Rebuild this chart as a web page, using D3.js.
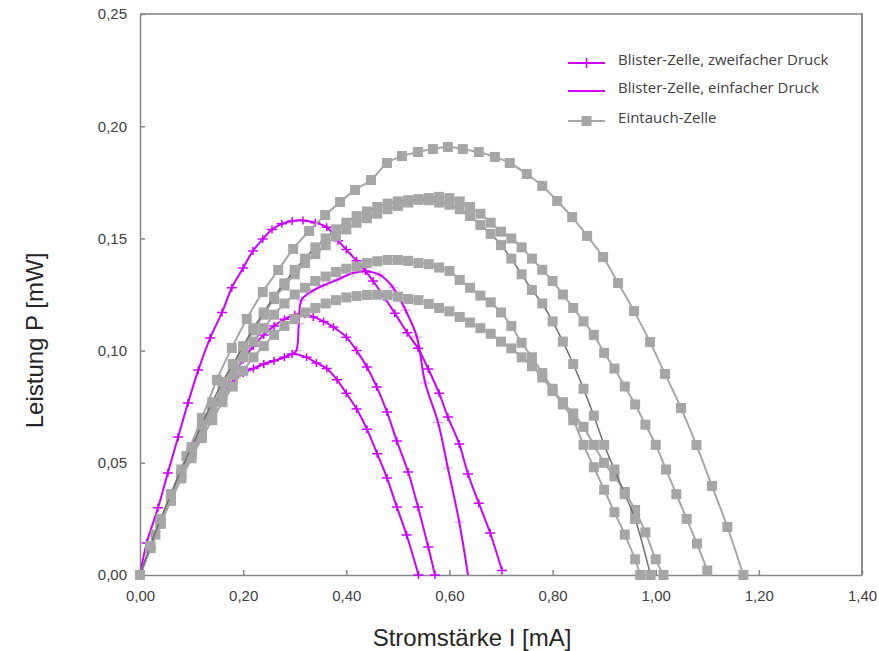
<!DOCTYPE html>
<html>
<head>
<meta charset="utf-8">
<script src="https://cdn.jsdelivr.net/npm/d3@7"></script>
<style>
  body { margin: 0; background: #fff; }
  .tick text { font-family: "Liberation Sans", Arial, sans-serif; font-size: 15px; fill: #404040; }
  .axis-title { font-family: "Liberation Sans", Arial, sans-serif; font-size: 24px; fill: #262626; }
  .legend text { font-family: "Open Sans", "Noto Sans", sans-serif; font-size: 15px; fill: #404040; }
</style>
</head>
<body>
<div id="chart"></div>
<script>
// Blister-Zelle, zweifacher Druck (+ markers)
const blisterA_I = [0, 0.013, 0.035, 0.054, 0.074, 0.093, 0.113, 0.136, 0.159, 0.178, 0.20, 0.219, 0.238, 0.256, 0.275, 0.295, 0.316, 0.34, 0.362, 0.384, 0.40, 0.42, 0.437, 0.452, 0.473, 0.494, 0.518, 0.539, 0.559, 0.58, 0.597, 0.619, 0.636, 0.657, 0.679, 0.702]
const blisterA_P = [0, 0.0143, 0.030, 0.0455, 0.0615, 0.0766, 0.0913, 0.1056, 0.117, 0.128, 0.1368, 0.1444, 0.1497, 0.154, 0.1565, 0.1578, 0.158, 0.157, 0.155, 0.149, 0.145, 0.140, 0.1355, 0.131, 0.124, 0.1167, 0.108, 0.101, 0.0918, 0.081, 0.0704, 0.0584, 0.045, 0.032, 0.0187, 0.002]

const blisterC_I = [0, 0.02, 0.04, 0.06, 0.08, 0.10, 0.12, 0.14, 0.16, 0.18, 0.20, 0.22, 0.24, 0.26, 0.28, 0.30, 0.32, 0.336, 0.356, 0.375, 0.40, 0.42, 0.44, 0.459, 0.479, 0.498, 0.52, 0.539, 0.559, 0.572]
const blisterC_P = [0, 0.012, 0.024, 0.035, 0.046, 0.056, 0.065, 0.074, 0.082, 0.089, 0.096, 0.102, 0.107, 0.111, 0.114, 0.116, 0.1162, 0.115, 0.113, 0.1105, 0.106, 0.100, 0.0927, 0.0838, 0.0726, 0.0597, 0.0459, 0.0303, 0.0125, 0]

const blisterD_I = [0, 0.02, 0.04, 0.06, 0.08, 0.10, 0.12, 0.14, 0.16, 0.18, 0.20, 0.22, 0.24, 0.26, 0.28, 0.295, 0.323, 0.342, 0.362, 0.382, 0.40, 0.42, 0.44, 0.46, 0.479, 0.498, 0.517, 0.54]
const blisterD_P = [0, 0.012, 0.023, 0.034, 0.044, 0.054, 0.063, 0.072, 0.080, 0.086, 0.090, 0.092, 0.094, 0.0955, 0.097, 0.0985, 0.097, 0.0945, 0.092, 0.087, 0.081, 0.074, 0.065, 0.054, 0.0432, 0.0303, 0.0178, 0]

// Blister-Zelle, einfacher Druck (line)
const blisterB_I = [0, 0.02, 0.04, 0.06, 0.08, 0.10, 0.12, 0.14, 0.16, 0.18, 0.20, 0.22, 0.24, 0.26, 0.28, 0.295, 0.303, 0.308, 0.313, 0.33, 0.355, 0.382, 0.413, 0.44, 0.465, 0.491, 0.515, 0.537, 0.553, 0.578, 0.597, 0.619, 0.636]
const blisterB_P = [0, 0.012, 0.023, 0.034, 0.044, 0.054, 0.063, 0.072, 0.080, 0.086, 0.090, 0.092, 0.094, 0.0955, 0.097, 0.0985, 0.100, 0.112, 0.1225, 0.126, 0.129, 0.1315, 0.1346, 0.1352, 0.1337, 0.128, 0.118, 0.106, 0.0856, 0.068, 0.0477, 0.0236, 0]

// Eintauch-Zelle (squares)
const dip1_I = [0, 0.03, 0.06, 0.09, 0.12, 0.149, 0.178, 0.207, 0.238, 0.268, 0.297, 0.328, 0.359, 0.388, 0.417, 0.448, 0.479, 0.508, 0.539, 0.568, 0.597, 0.626, 0.657, 0.688, 0.717, 0.75, 0.78, 0.809, 0.838, 0.867, 0.898, 0.927, 0.958, 0.989, 1.018, 1.049, 1.079, 1.109, 1.139, 1.17]
const dip1_P = [0, 0.018, 0.036, 0.053, 0.070, 0.0869, 0.1012, 0.1141, 0.1261, 0.1359, 0.1453, 0.1533, 0.1604, 0.1662, 0.1716, 0.176, 0.1836, 0.1867, 0.1885, 0.1898, 0.1907, 0.1898, 0.1885, 0.1863, 0.1836, 0.1787, 0.1734, 0.1667, 0.1595, 0.1511, 0.1417, 0.1301, 0.1176, 0.1038, 0.0896, 0.0744, 0.0579, 0.0397, 0.0214, 0]

const dip2_I = [0, 0.02, 0.04, 0.06, 0.08, 0.10, 0.12, 0.14, 0.16, 0.18, 0.20, 0.22, 0.24, 0.26, 0.28, 0.30, 0.32, 0.34, 0.36, 0.38, 0.40, 0.42, 0.44, 0.46, 0.48, 0.50, 0.52, 0.54, 0.56, 0.58, 0.60, 0.62, 0.64, 0.66, 0.68, 0.70, 0.72, 0.74, 0.76, 0.78, 0.80, 0.82, 0.84, 0.86, 0.88, 0.90, 0.92, 0.94, 0.96, 0.98, 1.00, 1.02, 1.04, 1.06, 1.08, 1.10]
const dip2_P = [0, 0.012, 0.023, 0.034, 0.045, 0.055, 0.065, 0.075, 0.084, 0.093, 0.101, 0.109, 0.116, 0.123, 0.129, 0.134, 0.139, 0.143, 0.147, 0.151, 0.154, 0.157, 0.159, 0.161, 0.163, 0.1645, 0.166, 0.1675, 0.168, 0.1685, 0.168, 0.1665, 0.164, 0.161, 0.157, 0.153, 0.150, 0.146, 0.141, 0.136, 0.131, 0.125, 0.119, 0.113, 0.107, 0.099, 0.092, 0.084, 0.076, 0.067, 0.058, 0.047, 0.036, 0.025, 0.014, 0.002]

const dip3_I = [0, 0.02, 0.04, 0.06, 0.08, 0.10, 0.12, 0.14, 0.16, 0.18, 0.20, 0.22, 0.24, 0.26, 0.28, 0.30, 0.32, 0.34, 0.36, 0.38, 0.40, 0.42, 0.44, 0.46, 0.48, 0.50, 0.52, 0.54, 0.56, 0.58, 0.60, 0.62, 0.64, 0.66, 0.68, 0.70, 0.72, 0.74, 0.76, 0.78, 0.80, 0.82, 0.84, 0.86, 0.88, 0.90, 0.92, 0.94, 0.96, 0.99]
const dip3_P = [0, 0.013, 0.025, 0.036, 0.047, 0.057, 0.067, 0.077, 0.086, 0.094, 0.102, 0.110, 0.117, 0.124, 0.130, 0.136, 0.141, 0.146, 0.150, 0.154, 0.157, 0.160, 0.162, 0.164, 0.1655, 0.1665, 0.167, 0.1672, 0.167, 0.166, 0.165, 0.163, 0.160, 0.156, 0.152, 0.147, 0.141, 0.134, 0.127, 0.121, 0.113, 0.104, 0.094, 0.083, 0.071, 0.058, 0.047, 0.036, 0.025, 0]

const dip4_I = [0, 0.02, 0.04, 0.06, 0.08, 0.10, 0.12, 0.14, 0.16, 0.18, 0.20, 0.22, 0.24, 0.26, 0.28, 0.30, 0.32, 0.34, 0.36, 0.38, 0.40, 0.42, 0.44, 0.46, 0.48, 0.50, 0.52, 0.54, 0.56, 0.58, 0.60, 0.62, 0.64, 0.66, 0.68, 0.70, 0.72, 0.74, 0.76, 0.78, 0.80, 0.82, 0.84, 0.86, 0.88, 0.90, 0.92, 0.94, 0.96, 0.98, 1.00, 1.015]
const dip4_P = [0, 0.012, 0.023, 0.034, 0.044, 0.054, 0.063, 0.072, 0.081, 0.089, 0.097, 0.104, 0.110, 0.116, 0.121, 0.125, 0.128, 0.131, 0.133, 0.135, 0.1365, 0.1375, 0.139, 0.1398, 0.1404, 0.1404, 0.140, 0.139, 0.1385, 0.137, 0.1355, 0.1315, 0.128, 0.1245, 0.1215, 0.117, 0.111, 0.1035, 0.097, 0.090, 0.083, 0.077, 0.072, 0.066, 0.058, 0.050, 0.044, 0.037, 0.029, 0.019, 0.007, 0]

const dip5_I = [0, 0.02, 0.04, 0.06, 0.08, 0.10, 0.12, 0.14, 0.16, 0.18, 0.20, 0.22, 0.24, 0.26, 0.28, 0.30, 0.32, 0.34, 0.36, 0.38, 0.40, 0.42, 0.44, 0.46, 0.48, 0.50, 0.52, 0.54, 0.56, 0.58, 0.60, 0.62, 0.64, 0.66, 0.68, 0.70, 0.72, 0.74, 0.76, 0.78, 0.80, 0.82, 0.84, 0.86, 0.88, 0.90, 0.92, 0.94, 0.96, 0.97]
const dip5_P = [0, 0.012, 0.023, 0.033, 0.043, 0.052, 0.061, 0.069, 0.077, 0.084, 0.091, 0.097, 0.102, 0.107, 0.111, 0.114, 0.117, 0.119, 0.121, 0.1225, 0.1237, 0.1243, 0.1248, 0.1249, 0.1248, 0.124, 0.123, 0.1225, 0.1208, 0.119, 0.1175, 0.115, 0.1125, 0.110, 0.1075, 0.104, 0.101, 0.097, 0.093, 0.088, 0.082, 0.076, 0.069, 0.058, 0.048, 0.038, 0.028, 0.018, 0.007, 0]

const xTicks = [0, 0.2, 0.4, 0.6, 0.8, 1.0, 1.2, 1.4]
const yTicks = [0, 0.05, 0.10, 0.15, 0.20, 0.25]
const legendLabels = ["Blister-Zelle, zweifacher Druck", "Blister-Zelle, einfacher Druck", "Eintauch-Zelle"]

const magenta = "#cc00ff"
const grey = "#a6a6a6"

const margin = {top: 14, right: 17, bottom: 76, left: 140}
const W = 879, H = 651
const width = W - margin.left - margin.right
const height = H - margin.top - margin.bottom

const svg = d3.select("#chart").append("svg")
    .attr("width", W)
    .attr("height", H)
  .append("g")
    .attr("transform", "translate(" + margin.left + "," + margin.top + ")")

const x = d3.scaleLinear().domain([0, 1.4]).range([0, width])
const y = d3.scaleLinear().domain([0, 0.25]).range([height, 0])

const comma = function(d) { return d3.format(".2f")(d).replace(".", ",") }

// frame (top and right)
svg.append("path")
    .attr("d", "M0,0H" + width + "V" + height)
    .attr("fill", "none")
    .attr("stroke", "#404040")
    .attr("stroke-width", 1.2)

// axes
const xAxis = svg.append("g")
    .attr("transform", "translate(0," + height + ")")
    .call(d3.axisBottom(x).tickValues(xTicks).tickFormat(comma).tickSizeInner(-5).tickSizeOuter(0).tickPadding(15))
const yAxis = svg.append("g")
    .call(d3.axisLeft(y).tickValues(yTicks).tickFormat(comma).tickSizeInner(-5).tickSizeOuter(0).tickPadding(13))
xAxis.selectAll("line, path").attr("stroke", "#868686").attr("stroke-width", 1.5)
yAxis.selectAll("line, path").attr("stroke", "#868686").attr("stroke-width", 1.5)

const zip = function(xs, ys) { return xs.map(function(v, i) { return {i: v, p: ys[i]} }) }
const line = d3.line().x(function(d) { return x(d.i) }).y(function(d) { return y(d.p) }).curve(d3.curveCatmullRom.alpha(0.5))

function plusMarks(data, color, sw, op) {
  const g = svg.append("g")
  g.selectAll("path").data(data).enter().append("path")
      .attr("d", function(d) { const cx = x(d.i), cy = y(d.p); return "M" + (cx - 5) + "," + cy + "H" + (cx + 5) + "M" + cx + "," + (cy - 4) + "V" + (cy + 4) })
      .attr("stroke", color)
      .attr("stroke-width", sw)
      .attr("opacity", op)
}

function squareMarks(data) {
  svg.append("g").selectAll("rect").data(data).enter().append("rect")
      .attr("x", function(d) { return x(d.i) - 5 })
      .attr("y", function(d) { return y(d.p) - 5 })
      .attr("width", 10)
      .attr("height", 10)
      .attr("fill", grey)
}

// blister curves
const blisterPlus = [zip(blisterA_I, blisterA_P), zip(blisterC_I, blisterC_P), zip(blisterD_I, blisterD_P)]
const blisterLine = zip(blisterB_I, blisterB_P)

svg.append("path").datum(blisterLine)
    .attr("d", line).attr("fill", "none").attr("stroke", magenta).attr("stroke-width", 2)
plusMarks(blisterLine.slice(1, -1), magenta, 1, 0.45)

blisterPlus.forEach(function(s) {
  svg.append("path").datum(s)
      .attr("d", line).attr("fill", "none").attr("stroke", magenta).attr("stroke-width", 2)
  plusMarks(s.slice(1), magenta, 1.5, 1)
})

// dip cell curves
const dips = [zip(dip1_I, dip1_P), zip(dip2_I, dip2_P), zip(dip4_I, dip4_P), zip(dip5_I, dip5_P), zip(dip3_I, dip3_P)]
dips.forEach(function(s, k) {
  svg.append("path").datum(s)
      .attr("d", line).attr("fill", "none")
      .attr("stroke", k == 4 ? "#6f6f6f" : grey)
      .attr("stroke-width", k == 4 ? 1.5 : 2)
  squareMarks(s)
})

// axis titles
svg.append("text")
    .attr("class", "axis-title")
    .attr("x", 332)
    .attr("y", height + 71)
    .attr("text-anchor", "middle")
    .text("Stromstärke I [mA]")
svg.append("text")
    .attr("class", "axis-title")
    .attr("transform", "translate(" + (-97) + "," + (height / 2 + 46) + ") rotate(-90)")
    .attr("text-anchor", "middle")
    .text("Leistung P [mW]")

// legend
const legend = svg.append("g").attr("class", "legend")
    .attr("transform", "translate(" + (x(0.83)) + "," + 49 + ")")
const rowY = [0, 28, 58]
legend.selectAll("line").data(legendLabels).enter().append("line")
    .attr("x1", 0).attr("x2", 37)
    .attr("y1", function(d, i) { return rowY[i] }).attr("y2", function(d, i) { return rowY[i] })
    .attr("stroke", function(d, i) { return i < 2 ? magenta : grey })
    .attr("stroke-width", 2)
legend.append("path")
    .attr("d", "M13.5," + rowY[0] + "H23.5M18.5," + (rowY[0] - 5) + "V" + (rowY[0] + 5))
    .attr("stroke", magenta).attr("stroke-width", 1.5)
legend.append("rect")
    .attr("x", 13.5).attr("y", rowY[2] - 5).attr("width", 10).attr("height", 10).attr("fill", grey)
legend.selectAll("text").data(legendLabels).enter().append("text")
    .attr("x", 50)
    .attr("y", function(d, i) { return rowY[i] - 2 })
    .attr("dominant-baseline", "middle")
    .text(function(d) { return d })
</script>
</body>
</html>
